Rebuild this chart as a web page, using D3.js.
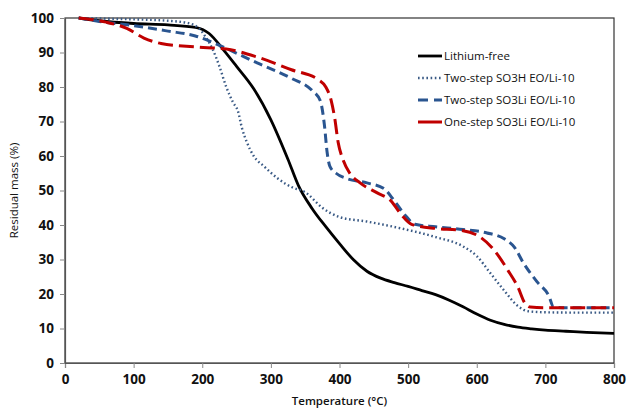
<!DOCTYPE html>
<html>
<head>
<meta charset="utf-8">
<script src="https://cdn.jsdelivr.net/npm/d3@7"></script>
<style>
  body { margin: 0; background: #fff; }
  svg text { font-family: "Open Sans", "Liberation Sans", sans-serif; }
</style>
</head>
<body>
<div id="chart"></div>
<script>
// TGA curves
var freeT = [20,50,100,150,190,210,230,250,275,300,325,340,360,380,400,420,440,460,480,500,520,540,560,580,600,620,640,660,680,700,730,760,800]
var freeM = [100,99.2,98.4,98,97.3,95.5,91,86,79.5,70.5,59,51.5,44.8,39.5,34.6,30,26.6,24.6,23.3,22.2,21,19.8,18.2,16.3,14.2,12.4,11.2,10.4,9.9,9.5,9.2,8.9,8.6]

var so3hT = [20,60,100,150,180,195,205,215,225,235,245,252,258,265,275,290,310,330,350,375,400,440,490,540,580,600,620,640,660,675,700,750,800]
var so3hM = [100,99.8,99.6,99.2,98.5,97,94.5,91,86,80,75.5,73,68,64,60,57,53.5,51,49.5,45,42.3,41,39,36.5,33.8,31,26,21,16.5,15,14.7,14.6,14.6]

var so3liT = [20,50,100,150,190,230,280,330,360,372,378,382,386,395,410,440,465,480,495,510,540,580,615,640,655,668,688,705,712,730,800]
var so3liM = [100,99,97.8,96.2,94.8,91.6,87,82.5,79,76,69,61,57,55,53.5,52.2,50.5,47,43,40.2,39.5,38.7,37.7,36,33.5,29,23.5,19.5,16.2,16,16]

var oneT = [20,60,90,115,140,190,235,280,330,370,380,388,393,398,405,415,430,455,475,490,505,540,575,605,625,645,660,670,678,700,800]
var oneM = [100,98.8,97,94.2,92.6,91.6,91,88.7,85,82,80,76,71,64,59,55,52.2,49.3,47,43,40.2,39,38.5,36.5,32.8,27,22,17.4,16.2,16,16]

var seriesNames = ["Lithium-free", "Two-step SO3H EO/Li-10", "Two-step SO3Li EO/Li-10", "One-step SO3Li EO/Li-10"]
var xTicks = [0,100,200,300,400,500,600,700,800]
var yTicks = [0,10,20,30,40,50,60,70,80,90,100]

var width = 628, height = 409
var margin = {left: 65, top: 18, right: 14, bottom: 46}

var svg = d3.select("#chart").append("svg")
  .attr("width", width)
  .attr("height", height)

var x = d3.scaleLinear().domain([0, 800]).range([margin.left, width - margin.right])
var y = d3.scaleLinear().domain([0, 100]).range([height - margin.bottom, margin.top])

// frame
svg.append("rect")
  .attr("x", x(0)).attr("y", y(100))
  .attr("width", x(800) - x(0)).attr("height", y(0) - y(100))
  .attr("fill", "none").attr("stroke", "#333").attr("stroke-width", 1.2)

var xAxis = svg.append("g")
  .attr("transform", "translate(0," + y(0) + ")")
  .call(d3.axisBottom(x).tickValues(xTicks).tickSize(5).tickPadding(6))
var yAxis = svg.append("g")
  .attr("transform", "translate(" + x(0) + ",0)")
  .call(d3.axisLeft(y).tickValues(yTicks).tickSize(5).tickPadding(6))

svg.selectAll(".domain").attr("stroke", "#555").attr("stroke-width", 1.2)
svg.selectAll(".tick line").attr("stroke", "#888")
svg.selectAll(".tick text")
  .attr("font-size", 13.5).attr("font-weight", "bold").attr("fill", "#111")
  .style("font-family", "'Open Sans', sans-serif")

svg.append("text")
  .attr("x", (x(0) + x(800)) / 2).attr("y", 405)
  .attr("text-anchor", "middle").attr("font-size", 11.5).attr("font-weight", 600).attr("fill", "#111")
  .text("Temperature (°C)")
svg.append("text")
  .attr("transform", "translate(18," + ((y(0) + y(100)) / 2) + ") rotate(-90)")
  .attr("text-anchor", "middle").attr("font-size", 11.5).attr("fill", "#111")
  .text("Residual mass (%)")

var line = d3.line()
  .x(function (d) { return x(d[0]) })
  .y(function (d) { return y(d[1]) })
  .curve(d3.curveMonotoneX)

function zip(a, b) { return a.map(function (v, i) { return [v, b[i]] }) }

var styles = [
  {data: zip(freeT, freeM), color: "#000000", width: 2.8, dash: null, legendDash: null},
  {data: zip(so3hT, so3hM), color: "#3a5a85", width: 2.4, dash: "1.6,2.6", legendDash: "1.6,2.6"},
  {data: zip(so3liT, so3liM), color: "#2a5590", width: 3, dash: "9,5", legendDash: "10,6"},
  {data: zip(oneT, oneM), color: "#c00000", width: 3, dash: "15,6", legendDash: null}
]

styles.forEach(function (s) {
  svg.append("path")
    .datum(s.data)
    .attr("d", line)
    .attr("fill", "none")
    .attr("stroke", s.color)
    .attr("stroke-width", s.width)
    .attr("stroke-dasharray", s.dash)
})

// legend
var legend = svg.append("g")
var legendY = [56, 78, 100, 122]
styles.forEach(function (s, i) {
  legend.append("line")
    .attr("x1", 418).attr("x2", 442)
    .attr("y1", legendY[i]).attr("y2", legendY[i])
    .attr("stroke", s.color).attr("stroke-width", s.width)
    .attr("stroke-dasharray", s.legendDash)
  legend.append("text")
    .attr("x", 444).attr("y", legendY[i] + 4)
    .attr("font-size", 11.5).attr("fill", "#111")
    .text(seriesNames[i])
})
</script>
</body>
</html>
